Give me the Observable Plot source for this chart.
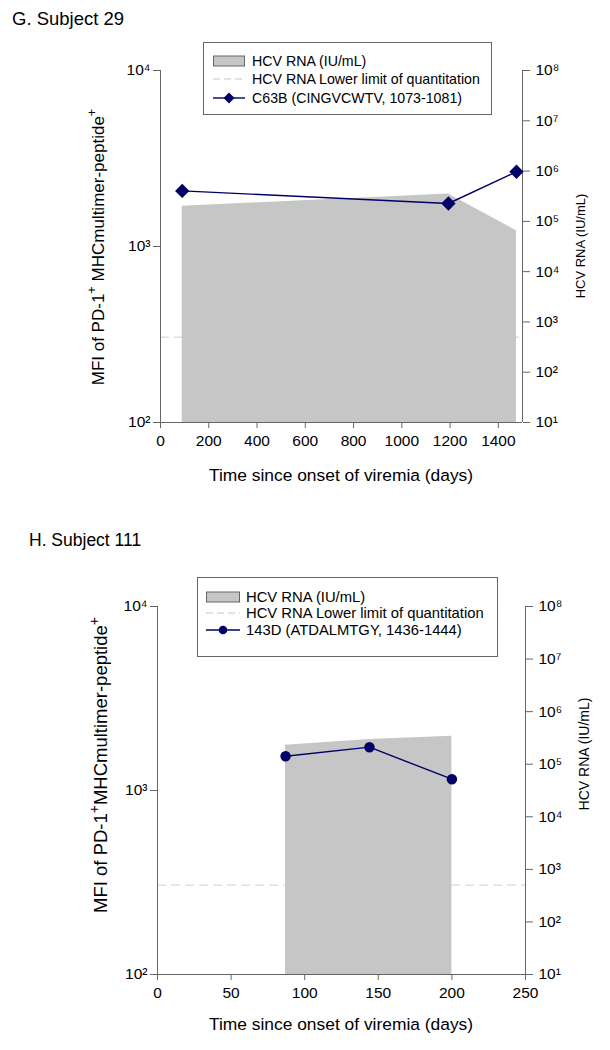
<!DOCTYPE html>
<html><head><meta charset="utf-8">
<script src="https://cdn.jsdelivr.net/npm/d3@7"></script>
<script src="https://cdn.jsdelivr.net/npm/@observablehq/plot@0.6"></script>
<style>
body{margin:0;background:#fff;font-family:Arial,"Liberation Sans",sans-serif;}
#root{position:relative;width:610px;height:1050px;overflow:hidden;background:#fff;}
.title{position:absolute;color:#000;white-space:nowrap;}
.legend{position:absolute;box-sizing:border-box;border:1px solid #666;background:#fff;color:#000;}
.legend .row{position:absolute;height:16px;display:flex;align-items:center;white-space:nowrap;}
.legend .row svg{display:block;}
.panel{position:absolute;left:0;}
</style></head><body><div id="root"></div>
<script>
// ---- data ----
const days29 = [90, 1193, 1475];
const hcvRna29 = [2.0e5, 3.5e5, 6.5e4];
const mfi29 = [2070, 1755, 2660];
const days111 = [87, 144, 200];
const hcvRna111 = [2.3e5, 2.95e5, 3.4e5];
const mfi111 = [1536, 1720, 1152];
const lloq = 500;
const xTicks29 = [0, 200, 400, 600, 800, 1000, 1200, 1400];
const xTicks111 = [0, 50, 100, 150, 200, 250];
const leftTicks = [100, 1000, 10000];
const rightTicks = [1e1, 1e2, 1e3, 1e4, 1e5, 1e6, 1e7, 1e8];
const legendLabels29 = ["HCV RNA (IU/mL)", "HCV RNA Lower limit of quantitation", "C63B (CINGVCWTV, 1073-1081)"];
const legendLabels111 = ["HCV RNA (IU/mL)", "HCV RNA Lower limit of quantitation", "143D (ATDALMTGY, 1436-1444)"];

const SUP = {"0":"⁰","1":"¹","2":"²","3":"³","4":"⁴","5":"⁵","6":"⁶","7":"⁷","8":"⁸","9":"⁹"};
const pow = d => "10" + String(Math.round(Math.log10(d))).split("").map(c => SUP[c]).join("");

const NAVY = "#000066", GRAY = "#c6c6c6", AXIS = "#666", DASH = "#d9d9d9";
const FONT = "Arial, 'Liberation Sans', sans-serif";
const root = document.getElementById("root");

function panel(cfg) {
  const hcv = cfg.days.map((d, i) => ({day: d, v: cfg.hcv[i]}));
  const mfi = cfg.days.map((d, i) => ({day: d, y: cfg.mfi[i]}));
  const xmax = cfg.xmax;
  const common = {
    width: 610, height: cfg.height,
    marginLeft: cfg.ml, marginRight: cfg.mr, marginTop: cfg.mt, marginBottom: cfg.mb,
    style: {fontFamily: FONT, fontSize: cfg.tickFont + "px", color: "#000", background: "transparent", overflow: "visible"}
  };
  // back layer: HCV RNA on the right-hand log axis
  const back = Plot.plot({
    ...common,
    x: {domain: [0, xmax], label: null, axis: null},
    y: {type: "log", domain: [10, 1e8], label: null},
    marks: [
      Plot.ruleY([lloq], {stroke: DASH, strokeWidth: 1.3, strokeDasharray: "9,5"}),
      Plot.areaY(hcv, {x: "day", y1: 10, y2: "v", fill: GRAY}),
      Plot.ruleX([xmax], {stroke: AXIS}),
      Plot.axisY({ticks: rightTicks, anchor: "right", tickSize: 7, tickPadding: 6, stroke: AXIS, label: null, tickFormat: pow})
    ]
  });
  // front layer: MFI on the left-hand log axis
  const front = Plot.plot({
    ...common,
    x: {domain: [0, xmax], label: null},
    y: {type: "log", domain: [100, 10000], label: null},
    marks: [
      Plot.ruleX([0], {stroke: AXIS}),
      Plot.ruleY([100], {stroke: AXIS}),
      Plot.line(mfi, {x: "day", y: "y", stroke: NAVY, strokeWidth: 1.4}),
      Plot.dot(mfi, {x: "day", y: "y", symbol: cfg.symbol, r: cfg.r, fill: NAVY, stroke: NAVY}),
      Plot.axisX({ticks: cfg.xTicks, tickSize: 6, tickPadding: 6, stroke: AXIS, label: null, tickFormat: d => String(d)}),
      Plot.axisY({ticks: leftTicks, anchor: "left", tickSize: 7, tickPadding: 3, stroke: AXIS, label: null, tickFormat: pow})
    ]
  });
  for (const p of [back, front]) {
    p.classList.add("panel");
    p.style.top = cfg.top + "px";
    root.appendChild(p);
  }
  const svg = d3.select(front);
  const cx = (cfg.ml + 610 - cfg.mr) / 2;
  svg.append("text").attr("x", cx).attr("y", cfg.xLabelY).attr("text-anchor", "middle")
    .attr("dominant-baseline", "middle").attr("font-size", 17.4).attr("font-family", FONT).attr("fill", "#000")
    .text("Time since onset of viremia (days)");
  const ll = svg.append("text").attr("transform", `translate(${cfg.leftLabel[0]},${cfg.leftLabel[1]}) rotate(-90)`)
    .attr("text-anchor", "middle").attr("dominant-baseline", "middle").attr("font-size", cfg.leftFont)
    .attr("font-family", FONT).attr("fill", "#000");
  ll.append("tspan").text("MFI of PD-1");
  ll.append("tspan").attr("dy", -7).attr("font-size", "75%").text("+");
  ll.append("tspan").attr("dy", 7).text(cfg.gap + "MHCmultimer-peptide");
  ll.append("tspan").attr("dy", -7).attr("font-size", "75%").text("+");
  svg.append("text").attr("transform", `translate(${cfg.rightLabel[0]},${cfg.rightLabel[1]}) rotate(-90)`)
    .attr("text-anchor", "middle").attr("dominant-baseline", "middle").attr("font-size", cfg.rightFont)
    .attr("font-family", FONT).attr("fill", "#000").text("HCV RNA (IU/mL)");

  // title
  const t = document.createElement("div");
  t.className = "title"; t.textContent = cfg.title;
  t.style.fontSize = cfg.titleFont + "px";
  t.style.left = cfg.titlePos[0] + "px"; t.style.top = cfg.titlePos[1] + "px";
  root.appendChild(t);

  // legend
  const L = cfg.legend;
  const lg = document.createElement("div");
  lg.className = "legend";
  Object.assign(lg.style, {left: L.x + "px", top: L.y + "px", width: L.w + "px", height: L.h + "px", fontSize: L.font + "px"});
  const sw = L.sw;
  const swatches = [
    `<svg width="${sw}" height="14"><rect x="0.5" y="2" width="${sw - 1}" height="10" fill="${GRAY}" stroke="${AXIS}"/></svg>`,
    `<svg width="${sw}" height="14"><line x1="0" x2="${sw}" y1="7" y2="7" stroke="${DASH}" stroke-width="1.3" stroke-dasharray="7,4"/></svg>`,
    `<svg width="${sw}" height="14"><line x1="0" x2="${sw}" y1="7" y2="7" stroke="${NAVY}" stroke-width="1.4"/>` +
      (cfg.symbol === "diamond2"
        ? `<path d="M${sw / 2},1.5 L${sw / 2 + 5.5},7 L${sw / 2},12.5 L${sw / 2 - 5.5},7Z" fill="${NAVY}"/>`
        : `<circle cx="${sw / 2}" cy="7" r="4.3" fill="${NAVY}"/>`) + `</svg>`
  ];
  cfg.legendLabels.forEach((lab, i) => {
    const r = document.createElement("div");
    r.className = "row";
    r.style.left = L.sx + "px";
    r.style.top = (L.rows[i] - 8) + "px";
    r.innerHTML = swatches[i] + `<span style="margin-left:${L.gap}px">${lab}</span>`;
    lg.appendChild(r);
  });
  root.appendChild(lg);
}

panel({
  title: "G. Subject 29", titlePos: [12, 8], titleFont: 18.5,
  top: 0, height: 500, ml: 160, mr: 88, mt: 70, mb: 78,
  days: days29, hcv: hcvRna29, mfi: mfi29,
  xTicks: xTicks29, xmax: 1500,
  symbol: "diamond2", r: 5.5, tickFont: 15.5,
  xLabelY: 476, leftLabel: [100, 247], leftFont: 17, gap: " ", rightLabel: [582, 246], rightFont: 13,
  legendLabels: legendLabels29,
  legend: {x: 203, y: 42, w: 289, h: 73, font: 14.2, rows: [18, 36, 55], sx: 9, sw: 32, gap: 7}
});

panel({
  title: "H. Subject 111", titlePos: [29, 530], titleFont: 17.5,
  top: 530, height: 520, ml: 157, mr: 85, mt: 76, mb: 76,
  days: days111, hcv: hcvRna111, mfi: mfi111,
  xTicks: xTicks111, xmax: 250,
  symbol: "circle", r: 4.5, tickFont: 15.5,
  xLabelY: 495, leftLabel: [102, 235], leftFont: 18.5, gap: "", rightLabel: [585, 224], rightFont: 14,
  legendLabels: legendLabels111,
  legend: {x: 197, y: 577, w: 301, h: 80, font: 14.8, rows: [19, 35, 52], sx: 8, sw: 34, gap: 6}
});
</script></body></html>
